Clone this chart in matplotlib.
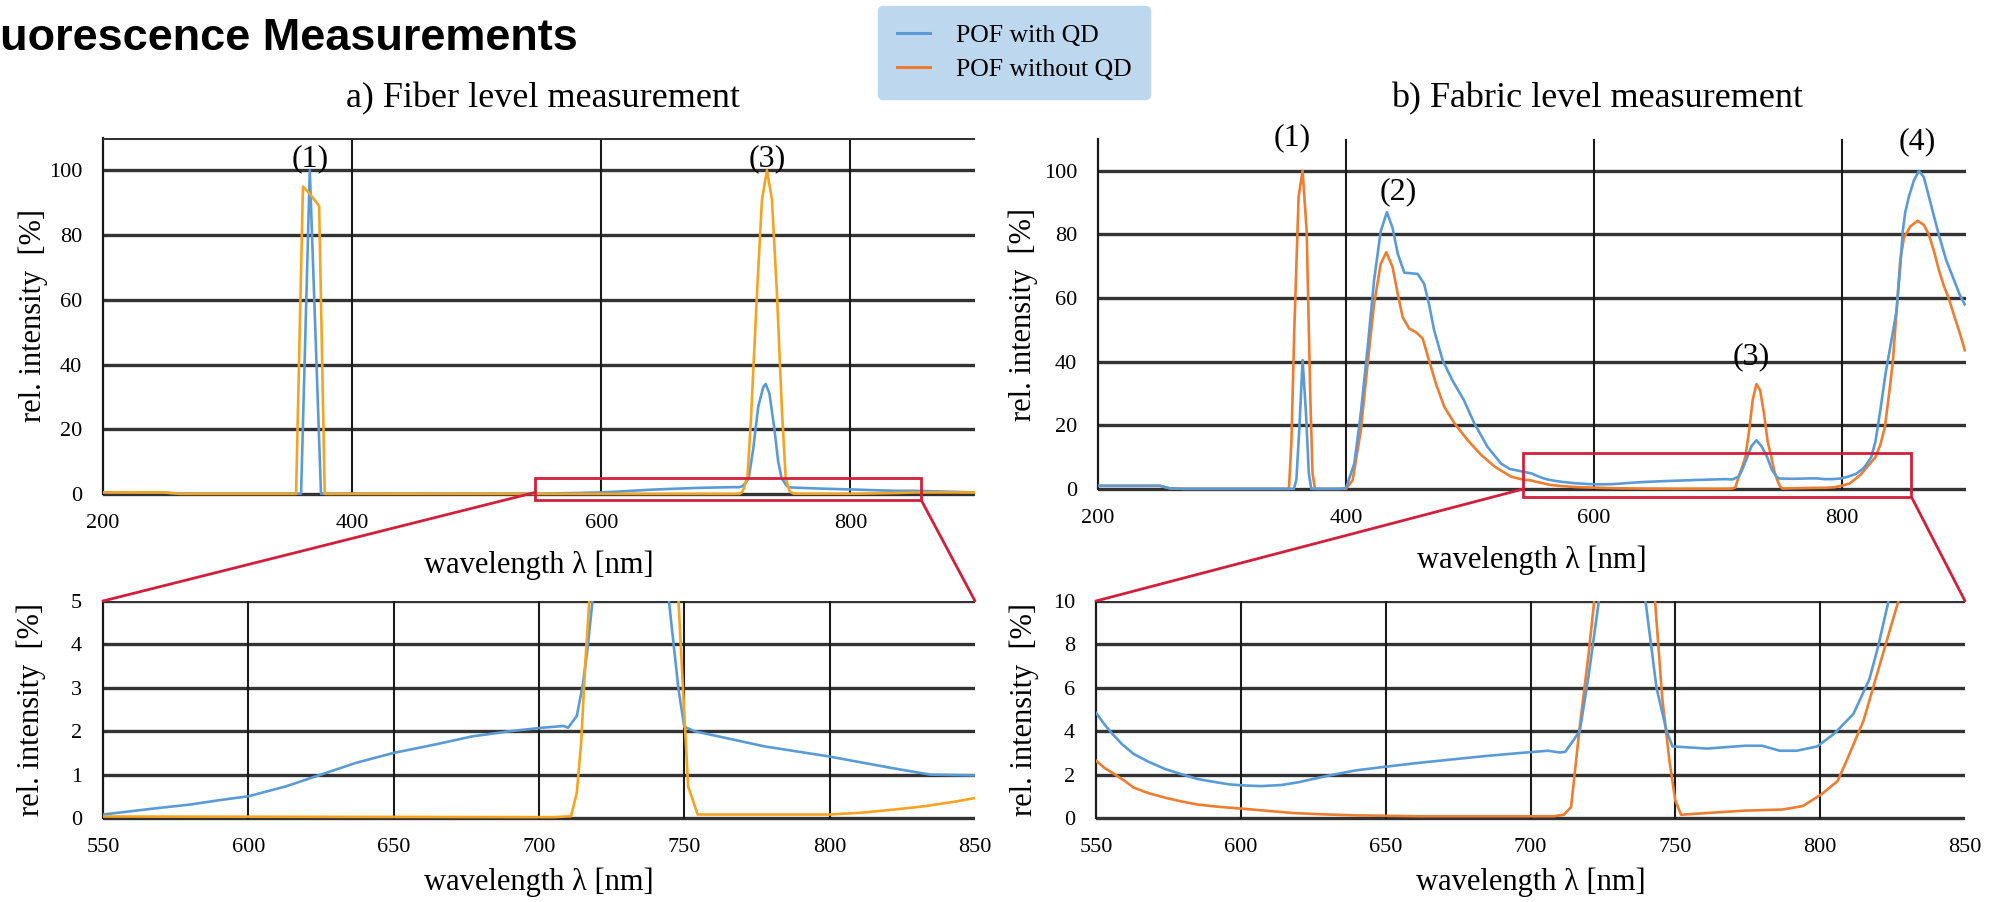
import matplotlib
matplotlib.use("Agg")
import matplotlib.pyplot as plt
from matplotlib.patches import Rectangle, ConnectionPatch
from matplotlib.lines import Line2D

# ---------------- data ----------------
legend_labels = ["POF with QD", "POF without QD"]

# a) fiber level, POF with QD
fiber_qd_wl = [200, 250, 260, 355, 359, 366, 375, 540, 550, 569, 580, 591, 600, 613, 625, 637,
               650, 664, 677, 690, 701, 708.5, 710, 713, 715, 716.7, 718.4, 722, 726, 730, 732,
               735, 739, 742, 744.7, 748, 750, 753.5, 777.6, 799.6, 821.5, 834.6, 850, 870, 900]
fiber_qd_val = [0.5, 0.4, 0.1, 0.1, 0.1, 100, 0.1, 0.1, 0.08, 0.23, 0.31, 0.42, 0.5, 0.73, 1.0, 1.27,
                1.5, 1.69, 1.88, 2.0, 2.08, 2.12, 2.08, 2.35, 3.04, 3.9, 5.0, 14, 27, 33, 34,
                31, 20, 10, 5.0, 2.96, 2.1, 2.0, 1.65, 1.42, 1.15, 1.0, 0.98, 0.8, 0.5]

# a) fiber level, POF without QD
fiber_noqd_wl = [200, 250, 262, 355, 360.5, 365.5, 373.5, 378, 705, 711, 713, 714.5, 716, 717.3,
                 720, 725, 729, 733, 737, 741, 745, 748, 749.6, 751.3, 754.6, 799.6, 810.5, 821.5,
                 832.5, 843.4, 850, 900]
fiber_noqd_val = [0.5, 0.5, 0.05, 0.05, 95, 93, 89, 0.05, 0.02, 0.04, 0.58, 1.73, 3.65, 5.0,
                  22, 62, 91, 100, 91, 62, 26, 5.0, 2.9, 0.73, 0.08, 0.08, 0.12, 0.19,
                  0.27, 0.38, 0.46, 0.5]

# b) fabric level, POF with QD
fabric_qd_wl = [200, 250, 258, 270, 355, 358, 360, 362.3, 365, 367.7, 370, 372, 395, 400,
                406.7, 412, 417.5, 422.6, 428, 433, 437.6, 441.7, 447, 452.4, 457.8, 463, 467,
                471, 478, 486, 495, 503.4, 514, 525, 532, 541,
                550, 553, 555.5, 559, 563, 568, 574, 580, 585, 590, 596, 601, 607, 614, 620,
                625, 632, 640, 651, 662, 673, 684, 695, 706, 710, 712, 717, 720, 723.6, 727,
                731, 735, 739.7, 743.5, 747, 749, 761, 774, 780, 786, 792, 799, 805, 811.5,
                817, 820, 823.6, 827, 831, 835, 840, 844, 847, 849, 851, 854, 858, 862, 866,
                870, 874, 878, 884, 890, 895, 899]
fabric_qd_val = [1.0, 1.0, 0.2, 0.05, 0.05, 0.05, 3, 18.5, 40.5, 24, 5, 0.05, 0.05, 0.3,
                 8, 24, 44.6, 65.5, 81, 87, 82, 74, 68, 67.8, 67.6, 64.5, 58,
                 50, 40.4, 34, 28, 20.7, 13.3, 8, 6.3, 5.6,
                 4.85, 4.3, 3.9, 3.4, 2.95, 2.6, 2.25, 2.0, 1.8, 1.68, 1.55, 1.5, 1.47, 1.52, 1.65,
                 1.8, 2.0, 2.2, 2.38, 2.55, 2.7, 2.85, 2.98, 3.1, 3.02, 3.05, 4.0, 6.5, 10, 13.5,
                 15.3, 13.5, 10, 6, 4.0, 3.3, 3.2, 3.33, 3.33, 3.1, 3.1, 3.3, 3.9, 4.8,
                 6.4, 7.9, 10, 15, 25, 36, 47, 56, 70, 81, 87, 92, 97, 100, 98,
                 92, 86, 80, 72, 66, 61, 58]

# b) fabric level, POF without QD
fabric_noqd_wl = [200, 250, 258, 270, 354, 356, 358.3, 361.8, 365, 368.3, 371.2, 373, 375, 400,
                  405.4, 412, 417.5, 422.6, 428, 432.5, 437.6, 441.7, 445.7, 451, 456.4, 461.8,
                  467, 472.6, 479.3, 487.4, 498, 509, 520, 533, 541,
                  550, 553, 556.6, 560, 563, 568, 574, 580, 585, 592, 600.5, 610, 618, 628, 640,
                  662, 708, 711.5, 714, 717, 720, 722, 725, 728, 731, 734, 737, 740, 743, 745.5,
                  748, 750, 752, 761, 774, 787, 794, 800.5, 806, 809, 815, 820, 827, 831, 834.6,
                  838, 841, 844, 847, 850, 855, 861, 866, 870, 874, 878, 882, 886, 890, 895, 899]
fabric_noqd_val = [1.0, 1.0, 0.2, 0.05, 0.05, 15, 50, 92, 100, 81, 29, 5, 0.05, 0.05,
                   2.8, 18.5, 39.5, 58, 70.8, 74.4, 69.7, 61.4, 54, 50.4, 49.3, 47.3,
                   40.4, 33, 25.8, 20.7, 15.4, 10.7, 7, 3.9, 3.1,
                   2.64, 2.3, 2.0, 1.7, 1.4, 1.15, 0.93, 0.75, 0.62, 0.52, 0.43, 0.32, 0.23, 0.17, 0.12,
                   0.08, 0.08, 0.15, 0.5, 4.2, 7.5, 10, 18, 28, 33, 31, 24, 15, 10, 5.5,
                   2.6, 0.8, 0.15, 0.23, 0.34, 0.39, 0.55, 1.1, 1.7, 2.6, 4.5, 6.8, 10, 14, 19.5,
                   30, 40, 56, 72, 79, 82.5, 84.3, 83, 80, 75, 69, 64, 60, 55, 49, 43.6]

# peak markers (label, wavelength, intensity)
fiber_peaks = [("(1)", 366, 99), ("(3)", 733, 99)]
fabric_peaks = [("(1)", 357, 106), ("(2)", 442, 89), ("(3)", 727, 37), ("(4)", 861, 104.5)]

# ---------------- style ----------------
BLUE = "#5b9bd5"
ORANGE_FIBER = "#f5a422"
ORANGE_FABRIC = "#ed7d31"
RED = "#d21f3c"
SERIF = ["Liberation Serif", "DejaVu Serif"]

W, H = 2011, 902
fig = plt.figure(figsize=(W / 100, H / 100), dpi=100)


def make_axes(px_left, px_right, px_top, px_zero, ymax, pad=5):
    per_unit = (px_zero - px_top) / ymax
    ymin = -pad / per_unit
    bottom_px = px_zero + pad
    ax = fig.add_axes([px_left / W, 1 - bottom_px / H,
                       (px_right - px_left) / W, (bottom_px - px_top) / H])
    ax.set_ylim(ymin, ymax)
    return ax


def style(ax, xlim, xticks, xgrid, yticks, top_line=False):
    ax.set_xlim(*xlim)
    ax.set_xticks(xticks)
    ax.set_xticklabels([str(t) for t in xticks], family=SERIF, fontsize=16)
    ax.set_yticks(yticks)
    ax.set_yticklabels([str(t) for t in yticks], family=SERIF, fontsize=16)
    ax.tick_params(length=0, axis="y", pad=15)
    ax.tick_params(length=0, axis="x", pad=11)
    for s in ax.spines.values():
        s.set_visible(False)
    y0, y1 = ax.get_ylim()
    for yt in yticks:
        ax.axhline(yt, color="#333333", lw=2.4, zorder=1)
    for xg in xgrid:
        ax.plot([xg, xg], [0, y1], color="#1a1a1a", lw=1.5, zorder=1)
    ax.plot([xlim[0], xlim[0]], [0, y1], color="#1a1a1a", lw=1.6, zorder=1, clip_on=False)
    if top_line:
        ax.axhline(y1, color="#333333", lw=2.2, zorder=1)
    ax.set_xlabel("wavelength λ [nm]", family=SERIF, fontsize=22)
    ax.set_ylabel("rel. intensity  [%]", family=SERIF, fontsize=22)


# axes boxes (pixel positions)
ax_a = make_axes(103, 975, 138, 494, 110)
ax_b = make_axes(1098, 1966, 139, 489, 110)
ax_az = make_axes(103, 975, 601, 818, 5)
ax_bz = make_axes(1096, 1965, 601, 818, 10)

style(ax_a, (200, 900), [200, 400, 600, 800], [400, 600, 800], [0, 20, 40, 60, 80, 100], top_line=True)
style(ax_b, (200, 900), [200, 400, 600, 800], [400, 600, 800], [0, 20, 40, 60, 80, 100])
style(ax_az, (550, 850), [550, 600, 650, 700, 750, 800, 850], [600, 650, 700, 750, 800], [0, 1, 2, 3, 4, 5])
style(ax_bz, (550, 850), [550, 600, 650, 700, 750, 800, 850], [600, 650, 700, 750, 800], [0, 2, 4, 6, 8, 10])


def place_labels(ax, px_left_label, px_xlabel_center_below):
    bb = ax.get_position()
    wpx = bb.width * W
    hpx = bb.height * H
    ax.yaxis.set_label_coords(-px_left_label / wpx, 0.5 + 2.5 / hpx)
    ax.xaxis.set_label_coords(0.5, -px_xlabel_center_below / hpx)

place_labels(ax_a, 70, 66)
place_labels(ax_b, 75, 66)
place_labels(ax_az, 72, 59)
place_labels(ax_bz, 72, 59)
for ax in (ax_a, ax_b, ax_az, ax_bz):
    ax.xaxis.label.set_va("center")
    ax.yaxis.label.set_va("center")

# data lines
for ax in (ax_a, ax_az):
    ax.plot(fiber_qd_wl, fiber_qd_val, color=BLUE, lw=1.9, zorder=3)
    ax.plot(fiber_noqd_wl, fiber_noqd_val, color=ORANGE_FIBER, lw=1.9, zorder=4)
for ax in (ax_b, ax_bz):
    ax.plot(fabric_noqd_wl, fabric_noqd_val, color=ORANGE_FABRIC, lw=1.9, zorder=3)
    ax.plot(fabric_qd_wl, fabric_qd_val, color=BLUE, lw=1.9, zorder=4)

for lab, x, y in fiber_peaks:
    ax_a.text(x, y, lab, ha="center", va="bottom", family=SERIF, fontsize=23, zorder=5)
for lab, x, y in fabric_peaks:
    ax_b.text(x, y, lab, ha="center", va="bottom", family=SERIF, fontsize=23, zorder=5)

# zoom rectangles and connectors
ax_a.add_patch(Rectangle((547, -2), 310, 6.9, fill=False, ec=RED, lw=2, clip_on=False, zorder=6))
ax_b.add_patch(Rectangle((543, -2.5), 313, 13.8, fill=False, ec=RED, lw=2, clip_on=False, zorder=6))

for (xa, ya), (xb, yb), a_top, a_bot in [((547, 0.5), (550, 5), ax_a, ax_az),
                                         ((857, -2), (850, 5), ax_a, ax_az),
                                         ((543, 0), (550, 10), ax_b, ax_bz),
                                         ((856, -2.5), (850, 10), ax_b, ax_bz)]:
    con = ConnectionPatch(xyA=(xa, ya), coordsA=a_top.transData,
                          xyB=(xb, yb), coordsB=a_bot.transData,
                          color=RED, lw=2, zorder=6)
    fig.add_artist(con)

# titles
fig.text(-40 / W, 1 - 39 / H, "Fluorescence Measurements", family=["Liberation Sans", "DejaVu Sans"],
         fontweight="bold", fontsize=32.5, ha="left", va="center")
fig.text(543 / W, 1 - 99 / H, "a) Fiber level measurement", family=SERIF, fontsize=26,
         ha="center", va="center")
fig.text(1597 / W, 1 - 99 / H, "b) Fabric level measurement", family=SERIF, fontsize=26,
         ha="center", va="center")

# legend
handles = [Line2D([], [], color=BLUE, lw=2.2), Line2D([], [], color=ORANGE_FABRIC, lw=2.2)]
leg = fig.legend(handles, legend_labels, loc="upper left",
                 bbox_to_anchor=(878 / W, 1 - 6 / H), borderaxespad=0,
                 prop={"family": SERIF, "size": 18.5}, handlelength=1.3,
                 handletextpad=1.0, labelspacing=0.4, borderpad=0.72,
                 frameon=True, fancybox=True)
leg.get_frame().set_facecolor("#bdd7ee")
leg.get_frame().set_edgecolor("#bdd7ee")
leg.get_frame().set_alpha(1)

fig.savefig("out.png", dpi=100)
